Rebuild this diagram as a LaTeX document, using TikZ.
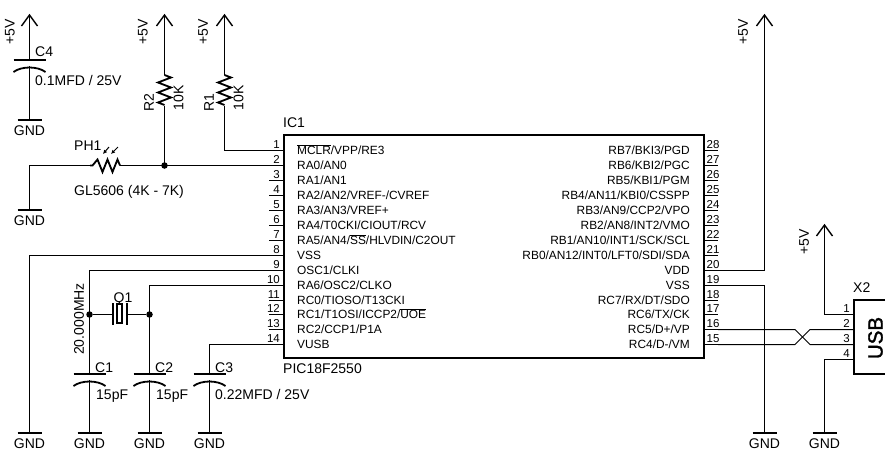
\documentclass[tikz,border=0pt]{standalone}
\usepackage{fontspec}
\usetikzlibrary{calc,arrows.meta}
\setmainfont{Liberation Sans}
\newfontfamily\usbfont[FakeBold=1.5]{Liberation Sans}
\newcommand{\ovl}[1]{\setbox0\hbox{#1}\hbox to 0pt{\vrule width\wd0 height 9.6pt depth -8.7pt\hss}\box0}
\tikzset{
  wire/.style={line width=1pt},
  bar/.style={line width=2pt},
  body/.style={line width=2pt,line join=miter},
  txt/.style={inner sep=0pt,font=\fontsize{14}{15}\selectfont},
  ltxt/.style={txt,anchor=base west},
  rtxt/.style={txt,anchor=base east},
  ctxt/.style={txt,anchor=base},
  rottxt/.style={txt,rotate=90,anchor=center},
  pinnum/.style={inner sep=0pt,font=\fontsize{11.5}{12}\selectfont},
  pinname/.style={inner sep=0pt,font=\fontsize{11.9}{12}\selectfont},
  dot/.style={circle,fill=black,inner sep=0pt,minimum size=6.5pt},
}
\newcommand{\supply}[4]{% name, x, tip y, text x
  \coordinate (#1) at (#2,#3);
  \draw[line width=1.4pt,line join=miter] ($(#1)+(-8,11)$) -- (#1) -- ($(#1)+(8,11)$);
  \node[rottxt] (#1t) at (#4,#3+17) {+5V};
}
\newcommand{\ground}[2]{% name, x
  \coordinate (#1) at (#2,433);
  \draw[bar] ($(#1)+(-12,0)$) -- ($(#1)+(12,0)$);
  \node[ctxt] (#1t) at (#2,448) {GND};
}
\newcommand{\capac}[3]{% name, x, plate y
  \coordinate (#1a) at (#2,#3);
  \coordinate (#1b) at (#2,#3+6);
  \draw[bar] ($(#1a)+(-16,0)$) -- ($(#1a)+(16,0)$);
  \draw[line width=1.8pt] ($(#1b)+(-16,6)$) .. controls ($(#1b)+(-8,0)$) and ($(#1b)+(8,0)$) .. ($(#1b)+(16,6)$);
}
\newcommand{\resistv}[2]{% name, x
  \coordinate (#1a) at (#2,75);
  \coordinate (#1b) at (#2,106);
  \draw[line width=1.8pt,line join=miter] (#1a) -- ++(6.5,2.5) -- ++(-13,5) -- ++(13,5) -- ++(-13,5) -- ++(13,5) -- ++(-13,5) -- ++(6.5,2.5);
}
\begin{document}
\begin{tikzpicture}[x=1pt,y=-1pt]
\useasboundingbox (0,0) rectangle (891,455);
% IC
\draw[body] (284,135) rectangle (703.5,358);
\node[ltxt] (ic1) at (283,127) {IC1};
\node[ltxt] (icn) at (283,373) {PIC18F2550};
\foreach \n/\s in {
 1/{\ovl{MCLR}/VPP/RE3},2/{RA0/AN0},3/{RA1/AN1},4/{RA2/AN2/VREF-/CVREF},5/{RA3/AN3/VREF+},
 6/{RA4/T0CKI/CIOUT/RCV},7/{RA5/AN4/\ovl{SS}/HLVDIN/C2OUT},8/{VSS},9/{OSC1/CLKI},10/{RA6/OSC2/CLKO},
 11/{RC0/TIOSO/T13CKI},12/{RC1/T1OSI/ICCP2/\ovl{UOE}},13/{RC2/CCP1/P1A},14/{VUSB}}{
  \pgfmathsetmacro{\py}{floor(150.3+14.97*(\n-1))+0.5}
  \coordinate (L\n) at (284,\py);
  \coordinate (Lo\n) at (269,\py);
  \draw[wire] (L\n) -- (Lo\n);
  \node[pinnum,anchor=base east] (Ln\n) at (280,\py-2) {\n};
  \node[pinname,anchor=base west] (Ls\n) at (297,\py+4) {\s};
}
\foreach \n/\s in {
 28/{RB7/BKI3/PGD},27/{RB6/KBI2/PGC},26/{RB5/KBI1/PGM},25/{RB4/AN11/KBI0/CSSPP},24/{RB3/AN9/CCP2/VPO},
 23/{RB2/AN8/INT2/VMO},22/{RB1/AN10/INT1/SCK/SCL},21/{RB0/AN12/INT0/LFT0/SDI/SDA},20/{VDD},19/{VSS},
 18/{RC7/RX/DT/SDO},17/{RC6/TX/CK},16/{RC5/D+/VP},15/{RC4/D-/VM}}{
  \pgfmathsetmacro{\py}{floor(150.3+14.97*(28-\n))+0.5}
  \coordinate (R\n) at (703.5,\py);
  \coordinate (Ro\n) at (718,\py);
  \draw[wire] (R\n) -- (Ro\n);
  \node[pinnum,anchor=base west] (Rn\n) at (706.5,\py-2) {\n};
  \node[pinname,anchor=base east] (Rs\n) at (690,\py+4) {\s};
}
% C4 and supply
\supply{vc}{29.5}{15}{10}
\capac{cf}{29.5}{60}
\coordinate (gfu) at (29.5,120);
\draw[bar] (17.5,120) -- (41.5,120);
\node[ctxt] (gfx) at (29.5,135) {GND};
\draw[wire] (vc) -- (cfa) (cfb) -- (gfu);
\node[ltxt] (c4) at (35,56) {C4};
\node[ltxt] (c4v) at (35,85) {0.1MFD / 25V};
% R2, R1
\supply{vb}{164.5}{15}{143}
\resistv{rb}{164.5}
\coordinate (jn) at (164.5,165.5);
\draw[wire] (vb) -- (rba) (rbb) -- (jn);
\node[rottxt] (r2) at (149,102.5) {R2};
\node[rottxt] (r2v) at (178.5,98) {10K};
\supply{va}{224.5}{15}{203}
\resistv{ra}{224.5}
\draw[wire] (va) -- (raa) (rab) |- (L1);
\node[rottxt] (r1) at (209,102.5) {R1};
\node[rottxt] (r1v) at (238.5,98) {10K};
% PH1
\coordinate (pa) at (90,165.5);
\coordinate (pb) at (120,165.5);
\coordinate (gpu) at (29.5,210);
\draw[line width=1.8pt,line join=miter] (pa) -- ++(2.5,0) -- ++(5,-6) -- ++(5,12.5) -- ++(5,-12.5) -- ++(5,12.5) -- ++(5,-12.5) -- (pb);
\draw[wire] (L2) -- (pb) (pa) -| (gpu);
\draw[bar] (17.5,210) -- (41.5,210);
\node[ctxt] (gpt) at (29.5,225) {GND};
\node[dot] (jd) at (jn) {};
\draw[line width=1pt,-{Latex[length=4pt,width=4pt]}] (109,147) -- (103,154);
\draw[line width=1pt,-{Latex[length=4pt,width=4pt]}] (118,147) -- (111,154);
\node[ltxt] (ph) at (74,150) {PH1};
\node[ltxt] (gl) at (74,195) {GL5606 (4K - 7K)};
% pin 8
\ground{ga}{29.5}
\draw[wire] (Lo8) -| (ga);
% C1, C2, C3
\capac{ca}{89.5}{374}
\ground{gb}{89.5}
\draw[wire] (Lo9) -| (caa) (cab) -- (gb);
\capac{cb}{149.5}{374}
\ground{gc}{149.5}
\draw[wire] (Lo10) -| (cba) (cbb) -- (gc);
\capac{cc}{209.5}{374}
\ground{gd}{209.5}
\draw[wire] (Lo14) -| (cca) (ccb) -- (gd);
\node[ltxt] (c1) at (95,372) {C1};
\node[ltxt] (c2) at (155,372) {C2};
\node[ltxt] (c3) at (215,372) {C3};
\node[ltxt] (c1v) at (96,399) {15pF};
\node[ltxt] (c2v) at (156,399) {15pF};
\node[ltxt] (c3v) at (215,399) {0.22MFD / 25V};
% crystal
\node[dot] (ja) at (89.5,314.5) {};
\node[dot] (jb) at (149.5,314.5) {};
\coordinate (qa) at (112.5,314.5);
\coordinate (qb) at (126.5,314.5);
\draw[wire] (ja) -- (qa) (qb) -- (jb);
\draw[line width=2pt] (112.5,303) -- (112.5,325) (126.5,303) -- (126.5,325);
\draw[line width=1.4pt] (117,304) rectangle (122,323);
\node[ctxt] (q1) at (123,302) {Q1};
\node[rottxt] (xt) at (79,319) {20.000MHz};
% right side
\supply{vd}{764.5}{15}{743}
\draw[wire] (Ro20) -| (vd);
\ground{ge}{764.5}
\draw[wire] (Ro19) -| (ge);
% USB
\draw[body] (885,300) -- (854,300) -- (854,373.5) -- (885,373.5);
\node[ltxt] (x2) at (853,292) {X2};
\node[inner sep=0pt,rotate=90,font=\usbfont\fontsize{20.5}{22}\selectfont] (usb) at (875.5,338) {USB};
\foreach \n [count=\k from 0] in {1,2,3,4}{
  \pgfmathsetmacro{\py}{314.5+15*\k}
  \coordinate (U\n) at (854,\py);
  \node[pinnum,anchor=base east] (Un\n) at (850,\py-2) {\n};
}
\supply{ve}{824.5}{225}{804}
\draw[wire] (U1) -| (ve);
\ground{gg}{824.5}
\draw[wire] (U4) -| (gg);
\draw[wire,line join=miter] (Ro16) -- (795,329.5) -- (810,344.5) -- (U3);
\draw[wire,line join=miter] (Ro15) -- (795,344.5) -- (810,329.5) -- (U2);
\end{tikzpicture}
\end{document}
